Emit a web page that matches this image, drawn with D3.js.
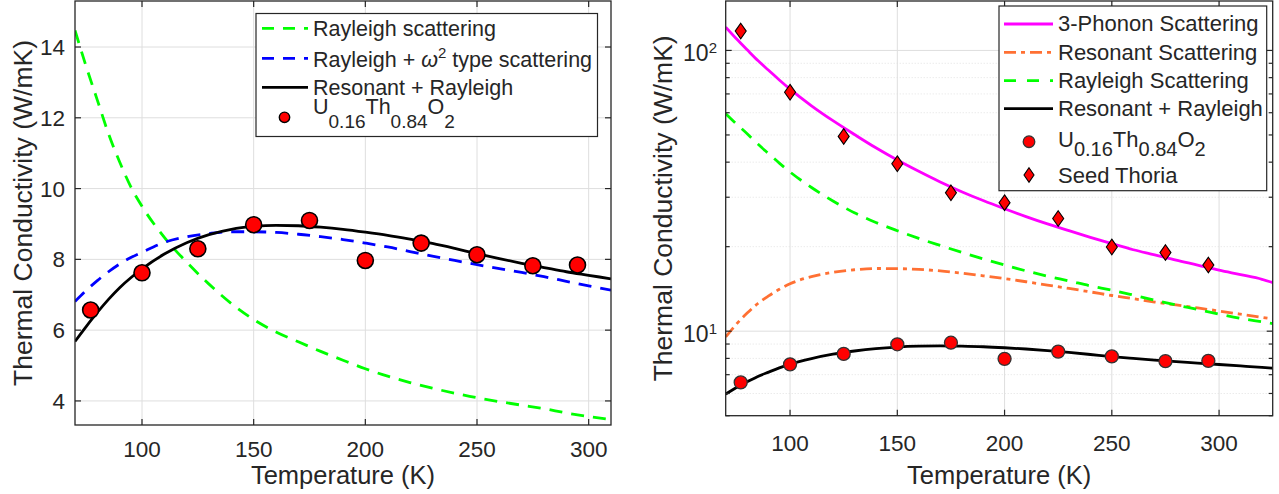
<!DOCTYPE html>
<html>
<head>
<meta charset="UTF-8">
<title>Thermal conductivity</title>
<style>
  body { margin: 0; background: #fff; }
  svg text { font-family: "Liberation Sans", Arial, Helvetica, sans-serif; fill: #262626; }
  .grid line { stroke: #dedede; stroke-width: 1; }
  .minor line { stroke: #e2e2e2; stroke-width: 1; stroke-dasharray: 1,2; }
  .frame { fill: none; stroke: #262626; stroke-width: 1.3; }
  .tick { stroke: #262626; stroke-width: 1.2; }
</style>
</head>
<body>
<svg id="chart" width="1279" height="494"></svg>
<script src="https://d3js.org/d3.v7.min.js"></script>
<script>
// measured points (same sample in both panels)
const sampleT = [77, 100, 125, 150, 175, 200, 225, 250, 275, 295];
const uthKappa = [6.57, 7.62, 8.30, 8.98, 9.10, 7.97, 8.46, 8.13, 7.82, 7.84];
const thoriaKappa = [117.2, 71.0, 49.4, 39.5, 31.1, 28.7, 25.2, 19.95, 19.05, 17.2];

// left panel model curves
const leftT = [70, 75, 80, 85, 90, 95, 100, 110, 120, 130, 140, 150, 160, 170, 180, 190, 200, 210, 220, 230, 240, 250, 260, 270, 280, 290, 300, 310];
const leftRayleigh = [14.47, 13.45, 12.5, 11.55, 10.75, 10.05, 9.5, 8.62, 7.92, 7.3, 6.75, 6.3, 5.95, 5.67, 5.4, 5.15, 4.91, 4.7, 4.52, 4.36, 4.22, 4.09, 3.98, 3.88, 3.78, 3.66, 3.56, 3.47];
const leftOmega2 = [6.81, 7.12, 7.4, 7.65, 7.87, 8.05, 8.2, 8.48, 8.64, 8.73, 8.78, 8.78, 8.76, 8.71, 8.64, 8.56, 8.46, 8.35, 8.22, 8.09, 7.97, 7.85, 7.74, 7.63, 7.51, 7.38, 7.25, 7.13];
const leftResonant = [5.68, 6.1, 6.5, 6.87, 7.2, 7.48, 7.73, 8.15, 8.47, 8.7, 8.85, 8.93, 8.96, 8.95, 8.91, 8.85, 8.77, 8.68, 8.57, 8.45, 8.31, 8.16, 8.02, 7.89, 7.77, 7.65, 7.55, 7.45];

// right panel model curves
const rightT = [70, 75, 80, 85, 90, 95, 100, 110, 120, 130, 140, 150, 160, 170, 180, 190, 200, 210, 220, 230, 240, 250, 260, 270, 280, 290, 300, 310, 320, 325];
const phonon3 = [121, 110, 100.5, 92, 85, 78.5, 72.8, 63.5, 56.2, 50.2, 45, 40.7, 37.1, 34.0, 31.4, 29.2, 27.3, 25.6, 24.1, 22.8, 21.6, 20.5, 19.5, 18.7, 17.9, 17.2, 16.5, 15.9, 15.3, 14.9];
const resonantOnly = [9.54, 10.6, 11.6, 12.55, 13.35, 14.1, 14.75, 15.65, 16.2, 16.55, 16.72, 16.7, 16.6, 16.4, 16.1, 15.75, 15.4, 15.0, 14.6, 14.2, 13.8, 13.4, 13.05, 12.7, 12.4, 12.1, 11.8, 11.5, 11.2, 11.05];
const rightRayleigh = [59.5, 54.7, 50.5, 46.4, 42.9, 39.7, 36.9, 32.5, 29.1, 26.4, 24.4, 22.8, 21.4, 20.2, 19.1, 18.1, 17.2, 16.4, 15.7, 15.1, 14.5, 14.0, 13.45, 12.9, 12.4, 11.95, 11.5, 11.1, 10.8, 10.65];
const rightResonant = [5.97, 6.3, 6.6, 6.9, 7.15, 7.4, 7.63, 7.99, 8.28, 8.5, 8.67, 8.78, 8.84, 8.86, 8.84, 8.8, 8.73, 8.64, 8.53, 8.4, 8.26, 8.12, 8.0, 7.89, 7.79, 7.7, 7.61, 7.52, 7.43, 7.38];

const xTicks = [100, 150, 200, 250, 300];
const leftYTicks = [4, 6, 8, 10, 12, 14];
const rightYTicks = [10, 100];

const svg = d3.select("#chart");

const GREEN = "#00ff00", BLUE = "#0000ff", MAGENTA = "#ff00ff", ORANGE = "#ff7033";

function diamond(w, h) {
  return `M0,${-h}L${w},0L0,${h}L${-w},0Z`;
}

function makePanel(id, x, y, opts) {
  const g = svg.append("g");
  const [x0, x1] = x.range();
  const [y0, y1] = y.range();

  g.append("clipPath").attr("id", id).append("rect")
    .attr("x", x0).attr("y", y1).attr("width", x1 - x0).attr("height", y0 - y1);

  // minor grid (log axis only)
  if (opts.minor) {
    g.append("g").attr("class", "minor").selectAll("line")
      .data(opts.minor).join("line")
      .attr("x1", x0).attr("x2", x1)
      .attr("y1", d => y(d)).attr("y2", d => y(d));
  }
  const grid = g.append("g").attr("class", "grid");
  grid.selectAll(".gx").data(xTicks).join("line").attr("class", "gx")
    .attr("x1", d => x(d)).attr("x2", d => x(d)).attr("y1", y1).attr("y2", y0);
  grid.selectAll(".gy").data(opts.yTicks).join("line").attr("class", "gy")
    .attr("x1", x0).attr("x2", x1).attr("y1", d => y(d)).attr("y2", d => y(d));

  const plot = g.append("g").attr("clip-path", `url(#${id})`);

  // ticks (inside, on all four sides)
  const tk = g.append("g");
  const tl = 6;
  xTicks.forEach(t => {
    tk.append("line").attr("class", "tick").attr("x1", x(t)).attr("x2", x(t)).attr("y1", y0).attr("y2", y0 - tl);
    tk.append("line").attr("class", "tick").attr("x1", x(t)).attr("x2", x(t)).attr("y1", y1).attr("y2", y1 + tl);
  });
  opts.yTicks.concat(opts.minor || []).forEach(t => {
    const len = opts.yTicks.includes(t) ? tl : 4;
    tk.append("line").attr("class", "tick").attr("x1", x0).attr("x2", x0 + len).attr("y1", y(t)).attr("y2", y(t));
    tk.append("line").attr("class", "tick").attr("x1", x1).attr("x2", x1 - len).attr("y1", y(t)).attr("y2", y(t));
  });

  g.append("rect").attr("class", "frame")
    .attr("x", x0).attr("y", y1).attr("width", x1 - x0).attr("height", y0 - y1);

  // tick labels
  g.selectAll(".xl").data(xTicks).join("text").attr("class", "xl")
    .attr("x", d => x(d)).attr("y", opts.xLabelY)
    .attr("text-anchor", "middle").attr("font-size", 22.5).text(d => d);

  g.append("text")
    .attr("x", (x0 + x1) / 2).attr("y", 484)
    .attr("text-anchor", "middle").attr("font-size", 25.5)
    .text("Temperature (K)");

  g.append("text")
    .attr("transform", `translate(${opts.yTitleX},${(y0 + y1) / 2}) rotate(-90)`)
    .attr("text-anchor", "middle").attr("font-size", 26.5)
    .text("Thermal Conductivity (W/mK)");

  return { g, plot };
}

function drawLine(plot, xs, ys, x, y, color, dash) {
  const line = d3.line().x(d => x(d[0])).y(d => y(d[1])).curve(d3.curveMonotoneX);
  plot.append("path")
    .attr("d", line(d3.zip(xs, ys)))
    .attr("fill", "none").attr("stroke", color).attr("stroke-width", 2.8)
    .attr("stroke-dasharray", dash || null);
}

function subscriptFormula(t, size, subSize, shift) {
  const parts = [["U", 0], ["0.16", 1], ["Th", 0], ["0.84", 1], ["O", 0], ["2", 1]];
  let prev = 0;
  parts.forEach(([s, sub]) => {
    const off = sub ? shift : 0;
    t.append("tspan").attr("dy", off - prev).attr("font-size", sub ? subSize : size).text(s);
    prev = off;
  });
}

// ---------- left panel ----------
const xL = d3.scaleLinear().domain([70, 310]).range([75, 611]);
const yL = d3.scaleLinear().domain([3.32, 15.3]).range([425, 1]);
const left = makePanel("clipL", xL, yL, { yTicks: leftYTicks, xLabelY: 457, yTitleX: 32 });

left.g.selectAll(".yl").data(leftYTicks).join("text").attr("class", "yl")
  .attr("x", 65).attr("y", d => yL(d) + 8)
  .attr("text-anchor", "end").attr("font-size", 22.5).text(d => d);

drawLine(left.plot, leftT, leftRayleigh, xL, yL, GREEN, "13,9");
drawLine(left.plot, leftT, leftOmega2, xL, yL, BLUE, "13,9");
drawLine(left.plot, leftT, leftResonant, xL, yL, "#000");
left.plot.selectAll(".pt").data(d3.zip(sampleT, uthKappa)).join("circle")
  .attr("cx", d => xL(d[0])).attr("cy", d => yL(d[1])).attr("r", 8)
  .attr("fill", "#ff0000").attr("stroke", "#000").attr("stroke-width", 1.6);

// left legend
const lgL = left.g.append("g");
lgL.append("rect").attr("x", 256).attr("y", 13.5).attr("width", 341.5).attr("height", 123)
  .attr("fill", "#fff").attr("stroke", "#262626").attr("stroke-width", 1.2);
[[28.3, GREEN, "12,9"], [58.3, BLUE, "12,9"], [87.3, "#000", null]].forEach(([yy, c, dash]) => {
  lgL.append("line").attr("x1", 262).attr("x2", 308).attr("y1", yy).attr("y2", yy)
    .attr("stroke", c).attr("stroke-width", 2.8).attr("stroke-dasharray", dash);
});
lgL.append("circle").attr("cx", 284.5).attr("cy", 117.3).attr("r", 5.2)
  .attr("fill", "#ff0000").attr("stroke", "#000").attr("stroke-width", 1.4);
lgL.append("text").attr("x", 313).attr("y", 36).attr("font-size", 21.5).text("Rayleigh scattering");
const t2 = lgL.append("text").attr("x", 313).attr("y", 67).attr("font-size", 21.5);
t2.append("tspan").text("Rayleigh + ");
t2.append("tspan").attr("font-style", "italic").text("ω");
t2.append("tspan").attr("font-size", 15).attr("dy", -9).text("2");
t2.append("tspan").attr("dy", 9).text(" type scattering");
lgL.append("text").attr("x", 313).attr("y", 95).attr("font-size", 21.5).text("Resonant + Rayleigh");
subscriptFormula(lgL.append("text").attr("x", 313).attr("y", 114).attr("font-size", 21.5), 21.5, 19, 14);

// ---------- right panel ----------
const xR = d3.scaleLinear().domain([70, 325]).range([725.7, 1272.7]);
const yR = d3.scaleLog().domain([5, 150]).range([415.7, 1]);
const minorR = [5, 6, 7, 8, 9, 20, 30, 40, 50, 60, 70, 80, 90];
const right = makePanel("clipR", xR, yR, { yTicks: rightYTicks, minor: minorR, xLabelY: 451, yTitleX: 672 });

rightYTicks.forEach(d => {
  const t = right.g.append("text").attr("x", 717).attr("y", yR(d) + 11)
    .attr("text-anchor", "end").attr("font-size", 23);
  t.append("tspan").text("10");
  t.append("tspan").attr("font-size", 15).attr("dy", -8).text(Math.round(Math.log10(d)));
});

drawLine(right.plot, rightT, phonon3, xR, yR, MAGENTA);
drawLine(right.plot, rightT, resonantOnly, xR, yR, ORANGE, "12,5,4,5");
drawLine(right.plot, rightT, rightRayleigh, xR, yR, GREEN, "13,9");
drawLine(right.plot, rightT, rightResonant, xR, yR, "#000");
right.plot.selectAll(".pt").data(d3.zip(sampleT, uthKappa)).join("circle")
  .attr("cx", d => xR(d[0])).attr("cy", d => yR(d[1])).attr("r", 6.5)
  .attr("fill", "#ff0000").attr("stroke", "#333").attr("stroke-width", 1.3);
right.plot.selectAll(".dm").data(d3.zip(sampleT, thoriaKappa)).join("path")
  .attr("transform", d => `translate(${xR(d[0])},${yR(d[1])})`)
  .attr("d", diamond(5.5, 7.8))
  .attr("fill", "#ff0000").attr("stroke", "#000").attr("stroke-width", 1.1);

// right legend
const lgR = right.g.append("g");
lgR.append("rect").attr("x", 999).attr("y", 6).attr("width", 267.7).attr("height", 184.7)
  .attr("fill", "#fff").attr("stroke", "#262626").attr("stroke-width", 1.2);
[[24, MAGENTA, null], [52.3, ORANGE, "12,5,4,5"], [80.7, GREEN, "12,11"], [108.7, "#000", null]].forEach(([yy, c, dash]) => {
  lgR.append("line").attr("x1", 1004).attr("x2", 1053).attr("y1", yy).attr("y2", yy)
    .attr("stroke", c).attr("stroke-width", 2.8).attr("stroke-dasharray", dash);
});
lgR.append("circle").attr("cx", 1029).attr("cy", 141.7).attr("r", 5.8)
  .attr("fill", "#ff0000").attr("stroke", "#333").attr("stroke-width", 1.3);
lgR.append("path").attr("transform", "translate(1029,175)").attr("d", diamond(5, 7.2))
  .attr("fill", "#ff0000").attr("stroke", "#000").attr("stroke-width", 1.1);
[["3-Phonon Scattering", 30.7], ["Resonant Scattering", 60], ["Rayleigh Scattering", 87.5], ["Resonant + Rayleigh", 116]].forEach(([s, yy]) => {
  lgR.append("text").attr("x", 1058).attr("y", yy).attr("font-size", 22).text(s);
});
subscriptFormula(lgR.append("text").attr("x", 1058).attr("y", 147).attr("font-size", 22), 22, 20, 9);
lgR.append("text").attr("x", 1058).attr("y", 183).attr("font-size", 22).text("Seed Thoria");
</script>
</body>
</html>
